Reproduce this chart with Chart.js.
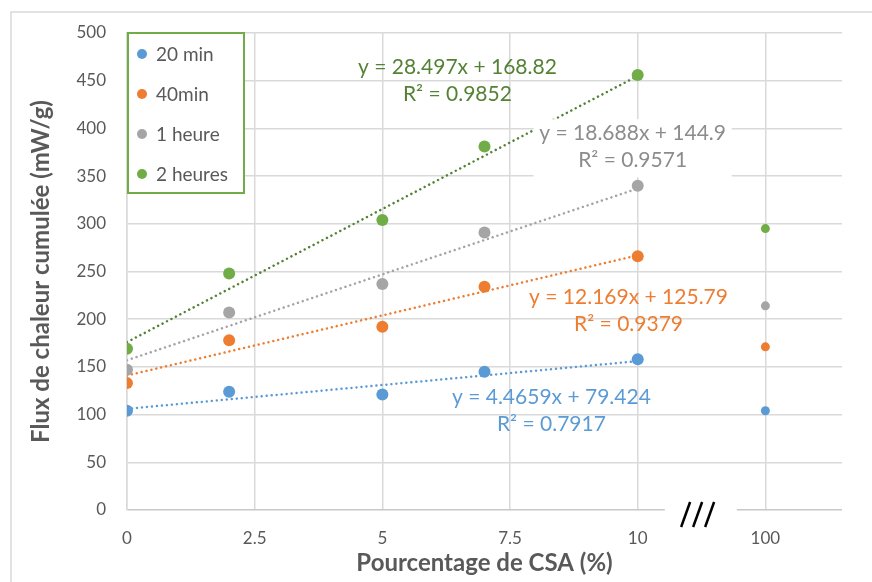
<!DOCTYPE html>
<html>
<head>
<meta charset="utf-8">
<script src="https://cdn.jsdelivr.net/npm/chart.js@4/dist/chart.umd.min.js"></script>
<style>
  body { margin: 0; background: #fff; }
  canvas { display: block; }
</style>
</head>
<body>
<canvas id="chart" width="872" height="582"></canvas>
<script>
// données
const xValues = [0, 2, 5, 7, 10, 100];
const seriesLabels = ['20 min', '40min', '1 heure', '2 heures'];
const values20min = [104, 124, 121, 145, 158, 104];
const values40min = [133, 178, 192, 234, 266, 171];
const values1h = [147, 207, 237, 291, 340, 214];
const values2h = [169, 248, 304, 381, 456, 295];

// courbes de tendance (extrémités en x = 0 et x = 10)
const trendX = [0, 10];
const trend20min = [106, 156];
const trend40min = [141, 267];
const trend1h = [157, 337];
const trend2h = [176, 455];

// équations affichées
const eqText = [
    ['y = 4.4659x + 79.424', 'R² = 0.7917'],
    ['y = 12.169x + 125.79', 'R² = 0.9379'],
    ['y = 18.688x + 144.9', 'R² = 0.9571'],
    ['y = 28.497x + 168.82', 'R² = 0.9852']
];
const eqAnchor = [[8.31, 118], [9.82, 223], [9.9, 395], [6.47, 464]];

// axe x coupé : 100 % est placé à 12.5
const xTicks = [0, 2.5, 5, 7.5, 10, 12.5];
const xTickLabels = ['0', '2.5', '5', '7.5', '10', '100'];
const yTicksStep = 50;

const pointColors = ['#5b9bd5', '#ed7d31', '#a5a5a5', '#70ad47'];
const trendColors = ['#5b9bd5', '#ed7d31', '#a5a5a5', '#548235'];
const textColors = ['#5b9bd5', '#ed7d31', '#8c8c8c', '#548235'];
const FONT = 'Lato, "DejaVu Sans", sans-serif';
const GREY = '#595959';

function axisX(v) { return v === 100 ? 12.5 : v; }

const allValues = [values20min, values40min, values1h, values2h];
const allTrends = [trend20min, trend40min, trend1h, trend2h];

const datasets = [];
allValues.forEach((vals, i) => {
    datasets.push({
        type: 'scatter',
        label: seriesLabels[i],
        data: vals.map((v, k) => ({ x: axisX(xValues[k]), y: v })),
        backgroundColor: pointColors[i],
        borderColor: pointColors[i],
        pointRadius: ctx => xValues[ctx.dataIndex] === 100 ? 4.5 : 6,
        pointBorderWidth: 0,
        order: 1
    });
});
allTrends.forEach((t, i) => {
    datasets.push({
        type: 'line',
        label: 'trend' + i,
        data: t.map((v, k) => ({ x: trendX[k], y: v })),
        borderColor: trendColors[i],
        borderWidth: 2.5,
        borderDash: [0.01, 5],
        borderCapStyle: 'round',
        pointRadius: 0,
        fill: false,
        order: 2
    });
});

// cadre extérieur
const framePlugin = {
    id: 'frame',
    beforeDraw(chart) {
        const c = chart.ctx;
        c.save();
        c.fillStyle = '#fff';
        c.fillRect(0, 0, chart.width, chart.height);
        c.strokeStyle = '#d9d9d9';
        c.lineWidth = 1.5;
        c.strokeRect(11, 12, chart.width + 20, chart.height + 20);
        c.restore();
    }
};

// coupure de l'axe x + équations + légende
const extrasPlugin = {
    id: 'extras',
    afterDatasetsDraw(chart) {
        const c = chart.ctx;
        const xs = chart.scales.x, ys = chart.scales.y;
        const area = chart.chartArea;
        c.save();

        // coupure
        const g0 = xs.getPixelForValue(10.53), g1 = xs.getPixelForValue(11.94);
        c.fillStyle = '#fff';
        c.fillRect(g0, area.bottom - 4, g1 - g0, 8);
        c.strokeStyle = '#000';
        c.lineWidth = 2.5;
        const sx = xs.getPixelForValue(10.85);
        for (let k = 0; k < 3; k++) {
            c.beginPath();
            c.moveTo(sx + k * 12, area.bottom + 17);
            c.lineTo(sx + k * 12 + 9, area.bottom - 8);
            c.stroke();
        }

        // équations
        c.font = '21px ' + FONT;
        c.textAlign = 'center';
        c.textBaseline = 'middle';
        eqText.forEach((lines, i) => {
            const px = xs.getPixelForValue(eqAnchor[i][0]);
            const py = ys.getPixelForValue(eqAnchor[i][1]);
            if (i === 2) {
                c.fillStyle = '#fff';
                c.fillRect(px - 99, py - 14, 198, 58);
            }
            c.fillStyle = textColors[i];
            c.fillText(lines[0], px, py);
            c.fillText(lines[1], px, py + 27);
        });

        // légende
        const lx = area.left + 1, ly = area.top;
        c.fillStyle = '#fff';
        c.fillRect(lx, ly, 116, 160);
        c.strokeStyle = '#70ad47';
        c.lineWidth = 2;
        c.strokeRect(lx, ly, 116, 160);
        c.font = '19px ' + FONT;
        c.textAlign = 'left';
        seriesLabels.forEach((lab, i) => {
            const cy = ly + 21 + i * 40;
            c.fillStyle = pointColors[i];
            c.beginPath();
            c.arc(lx + 14, cy, 5, 0, Math.PI * 2);
            c.fill();
            c.fillStyle = GREY;
            c.fillText(lab, lx + 28, cy + 1);
        });
        c.restore();
    }
};

new Chart(document.getElementById('chart').getContext('2d'), {
    data: { datasets: datasets },
    options: {
        responsive: false,
        animation: false,
        layout: { padding: { left: 27, top: 33, right: 30, bottom: 4 } },
        plugins: {
            legend: { display: false },
            tooltip: { enabled: false }
        },
        scales: {
            x: {
                type: 'linear',
                min: 0,
                max: 14,
                afterBuildTicks: scale => { scale.ticks = xTicks.map(v => ({ value: v })); },
                afterFit: scale => { scale.height = 68; },
                grid: { color: '#d9d9d9', lineWidth: 1.5, drawTicks: false },
                border: { display: false },
                ticks: {
                    padding: 18,
                    color: GREY,
                    font: { family: FONT, size: 17 },
                    maxRotation: 0,
                    callback: (v, i) => xTickLabels[i]
                },
                title: {
                    display: true,
                    text: 'Pourcentage de CSA (%)',
                    color: GREY,
                    font: { family: FONT, size: 24, weight: 'bold' },
                    padding: 0
                }
            },
            y: {
                min: 0,
                max: 500,
                afterFit: scale => { scale.width = 100; },
                grid: { color: ctx => ctx.tick.value === 0 ? '#c8c8c8' : '#d9d9d9', lineWidth: 1.5, drawTicks: false },
                border: { color: '#d9d9d9', width: 1.5 },
                ticks: {
                    stepSize: yTicksStep,
                    padding: 21,
                    color: GREY,
                    font: { family: FONT, size: 17 }
                },
                title: {
                    display: true,
                    text: 'Flux de chaleur cumulée (mW/g)',
                    color: GREY,
                    font: { family: FONT, size: 24, weight: 'bold' },
                    padding: 0
                }
            }
        }
    },
    plugins: [framePlugin, extrasPlugin]
});
</script>
</body>
</html>
